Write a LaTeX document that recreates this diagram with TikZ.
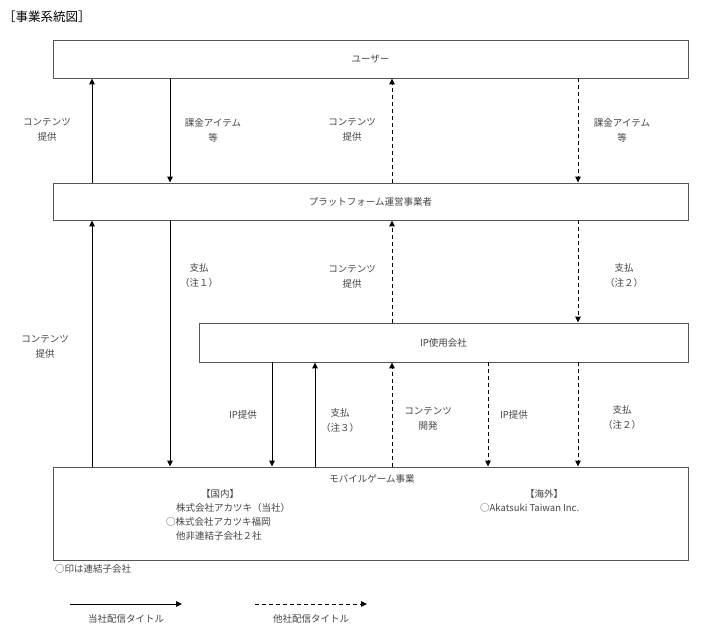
\documentclass[tikz,border=0pt]{standalone}
\usepackage{fontspec}
\setmainfont{Noto Sans CJK JP}
\usetikzlibrary{arrows.meta}
\definecolor{txt}{HTML}{444444}
\definecolor{edge}{HTML}{555555}
\tikzset{
  box/.style={draw=edge, line width=0.9pt, fill=white, inner sep=0pt, text=txt, font=\fontsize{9.5}{12}\selectfont},
  lbl/.style={text=txt, font=\fontsize{9.5}{15}\selectfont, align=center, inner sep=0pt},
  intext/.style={text=txt, font=\fontsize{9.5}{14}\selectfont, inner sep=0pt},
  flow/.style={line width=1pt, -{Triangle[length=6pt,width=5.5pt]}},
  oflow/.style={flow, dash pattern=on 4pt off 3pt},
}
\begin{document}
\begin{tikzpicture}[x=1pt,y=-1pt]
\useasboundingbox (0,0) rectangle (714,635);
% title
\node[anchor=west, inner sep=0pt, font=\fontsize{12.5}{14}\selectfont] (title) at (3,17) {［事業系統図］};
% boxes
\node[box, minimum width=635pt, minimum height=38pt] (user) at (370.5,59) {ユーザー};
\node[box, minimum width=635pt, minimum height=37pt] (plat) at (370.5,201.5) {プラットフォーム運営事業者};
\node[box, minimum width=489pt, minimum height=39pt] (ip) at (443.5,342.5) {IP使用会社};
\node[box, minimum width=635pt, minimum height=93pt] (mob) at (370.5,513.5) {};
% mobile box texts
\node[intext] (mobt) at (372,479) {モバイルゲーム事業};
\node[intext] (dom) at (220,494) {【国内】};
\node[intext, anchor=west] (dom1) at (176,508) {株式会社アカツキ（当社）};
\node[intext, anchor=west] (dom2) at (166,522) {○株式会社アカツキ福岡};
\node[intext, anchor=west] (dom3) at (176,536) {他非連結子会社２社};
\node[intext] (ovs) at (544,494) {【海外】};
\node[intext, anchor=west] (ovs1) at (480,508) {○Akatsuki Taiwan Inc.};
% columns
\coordinate (c1) at (92,0);
\coordinate (c2) at (170,0);
\coordinate (c3) at (272,0);
\coordinate (c4) at (315,0);
\coordinate (c5) at (392,0);
\coordinate (c6) at (488,0);
\coordinate (c7) at (578,0);
% solid flows
\draw[flow] (plat.north -| c1) -- (user.south -| c1);
\draw[flow] (mob.north -| c1) -- (plat.south -| c1);
\draw[flow] (user.south -| c2) -- (plat.north -| c2);
\draw[flow] (plat.south -| c2) -- (mob.north -| c2);
\draw[flow] (ip.south -| c3) -- (mob.north -| c3);
\draw[flow] (mob.north -| c4) -- (ip.south -| c4);
% dashed flows
\draw[oflow] (plat.north -| c5) -- (user.south -| c5);
\draw[oflow] (ip.north -| c5) -- (plat.south -| c5);
\draw[oflow] (mob.north -| c5) -- (ip.south -| c5);
\draw[oflow] (ip.south -| c6) -- (mob.north -| c6);
\draw[oflow] (user.south -| c7) -- (plat.north -| c7);
\draw[oflow] (plat.south -| c7) -- (ip.north -| c7);
\draw[oflow] (ip.south -| c7) -- (mob.north -| c7);
% labels
\node[lbl] (l1) at (47,130) {コンテンツ\\提供};
\node[lbl] (l2) at (213,130) {課金アイテム\\等};
\node[lbl] (l3) at (352,130) {コンテンツ\\提供};
\node[lbl] (l4) at (622,130) {課金アイテム\\等};
\node[lbl] (l5) at (199,275) {支払\\（注１）};
\node[lbl] (l6) at (352,277) {コンテンツ\\提供};
\node[lbl] (l7) at (624,275) {支払\\（注２）};
\node[lbl] (l8) at (45,347) {コンテンツ\\提供};
\node[lbl] (l9) at (243,415) {IP提供};
\node[lbl] (l10) at (340,420) {支払\\（注３）};
\node[lbl] (l11) at (428,419) {コンテンツ\\開発};
\node[lbl] (l12) at (514,415) {IP提供};
\node[lbl] (l13) at (622,417) {支払\\（注２）};
% footnote
\node[intext, anchor=west] (note) at (55,569) {○印は連結子会社};
% legend
\coordinate (ls1) at (70,604);
\coordinate (le1) at (182,604);
\coordinate (ls2) at (255,604);
\coordinate (le2) at (367,604);
\draw[flow] (ls1) -- (le1);
\draw[oflow] (ls2) -- (le2);
\node[lbl] (lg1) at (126,619) {当社配信タイトル};
\node[lbl] (lg2) at (311,619) {他社配信タイトル};
\end{tikzpicture}
\end{document}
